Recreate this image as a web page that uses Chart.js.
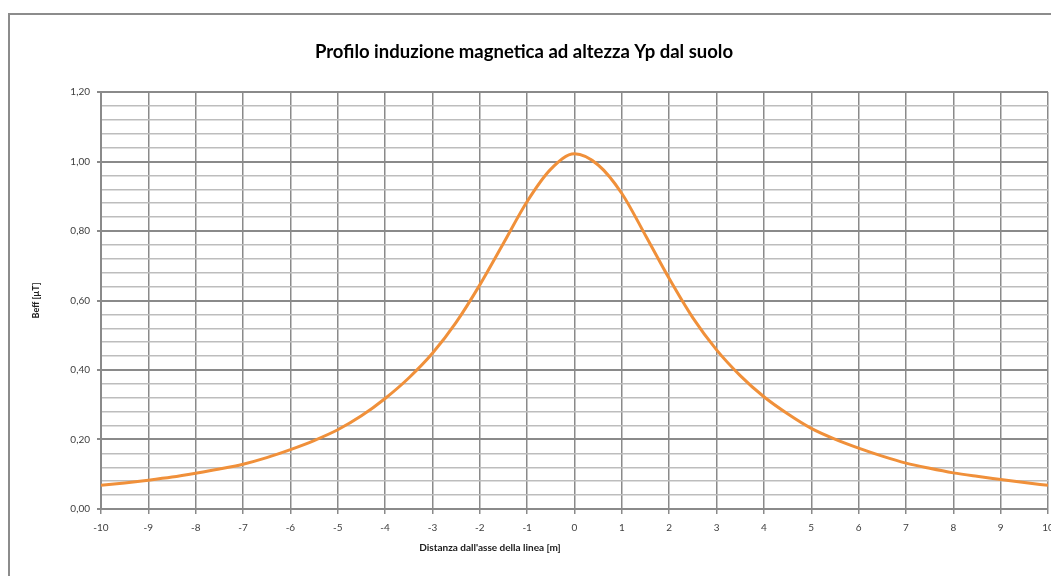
<!DOCTYPE html>
<html>
<head>
<meta charset="utf-8">
<script src="https://cdn.jsdelivr.net/npm/chart.js@4"></script>
<style>
  html, body { margin: 0; padding: 0; background: #ffffff; overflow: hidden; }
  #wrap { position: relative; width: 1051px; height: 576px; }
  #frame { position: absolute; left: 8px; top: 13px; width: 1200px; height: 800px; border: 2px solid #8c8c8c; box-sizing: border-box; }
  canvas { position: absolute; left: 0; top: 0; }
</style>
</head>
<body>
<div id="wrap">
  <div id="frame"></div>
  <canvas id="c" width="1051" height="576"></canvas>
</div>
<script>
const chartTitle = "Profilo induzione magnetica ad altezza Yp dal suolo";
const xAxisTitle = "Distanza dall'asse della linea [m]";
const yAxisTitle = "Beff [µT]";

const distances = [-10, -9.5, -9, -8.5, -8, -7.5, -7, -6.5, -6, -5.5, -5, -4.5, -4, -3.5, -3, -2.5, -2, -1.5, -1, -0.5,
                   0, 0.5, 1, 1.5, 2, 2.5, 3, 3.5, 4, 4.5, 5, 5.5, 6, 6.5, 7, 7.5, 8, 8.5, 9, 9.5, 10];
const beffValues = [0.068, 0.075, 0.083, 0.092, 0.103, 0.115, 0.129, 0.148, 0.171, 0.197, 0.228, 0.268, 0.318, 0.377, 0.448, 0.537, 0.645, 0.765, 0.885, 0.978,
                    1.022, 0.990, 0.908, 0.787, 0.663, 0.550, 0.458, 0.384, 0.323, 0.274, 0.232, 0.201, 0.175, 0.152, 0.132, 0.117, 0.104, 0.094, 0.085, 0.076, 0.068];

const yMin = 0, yMax = 1.2, yMajorStep = 0.2, yMinorStep = 0.04;
const xMin = -10, xMax = 10, xStep = 1;

const points = distances.map((d, i) => ({ x: d, y: beffValues[i] }));

const isMajor = v => Math.abs(v / yMajorStep - Math.round(v / yMajorStep)) < 1e-6;

// x-axis title drawn at the position it has in the (cropped) original sheet
const xTitlePlugin = {
  id: 'xTitle',
  afterDraw(chart) {
    const ctx = chart.ctx;
    ctx.save();
    ctx.font = 'bold 10px Lato';
    ctx.fillStyle = '#202020';
    ctx.textAlign = 'center';
    ctx.textBaseline = 'middle';
    ctx.fillText(xAxisTitle, 490, chart.chartArea.bottom + 39);
    ctx.restore();
  }
};

new Chart(document.getElementById('c'), {
  type: 'line',
  data: {
    datasets: [{
      data: points,
      borderColor: '#f0903a',
      borderWidth: 3,
      pointRadius: 0,
      cubicInterpolationMode: 'monotone',
      fill: false
    }]
  },
  plugins: [xTitlePlugin],
  options: {
    responsive: false,
    animation: false,
    layout: { padding: { left: 0, right: 3, top: 0, bottom: 0 }, autoPadding: false },
    plugins: {
      legend: { display: false },
      tooltip: { enabled: false },
      title: {
        display: true,
        text: chartTitle,
        color: '#000000',
        font: { family: 'Lato', size: 18.5, weight: 'bold', lineHeight: 1.2 },
        padding: { top: 40.9, bottom: 28.9 }
      }
    },
    scales: {
      x: {
        type: 'linear',
        min: xMin, max: xMax,
        afterFit: s => { s.height = 67; s.paddingLeft = 0; s.paddingRight = 0; },
        ticks: {
          stepSize: xStep,
          autoSkip: false,
          maxRotation: 0,
          padding: 8,
          color: '#404040',
          font: { family: 'Lato', size: 10 },
          callback: v => String(v)
        },
        grid: { color: '#8a8a8a', lineWidth: 1.5, tickLength: 5, tickColor: '#8a8a8a' },
        border: { color: '#8a8a8a', width: 2 },
        title: { display: false, text: xAxisTitle }
      },
      y: {
        min: yMin, max: yMax,
        afterFit: s => { s.width = 101; s.paddingTop = 0; s.paddingBottom = 0; },
        ticks: {
          stepSize: yMinorStep,
          maxTicksLimit: 100,
          autoSkip: false,
          padding: 7,
          color: '#404040',
          font: { family: 'Lato', size: 10 },
          callback: v => isMajor(v) ? v.toFixed(2).replace('.', ',') : ''
        },
        grid: {
          color: ctx => isMajor(ctx.tick.value) ? '#8a8a8a' : '#bdbdbd',
          lineWidth: ctx => isMajor(ctx.tick.value) ? 2 : 1.5,
          tickLength: 4,
          tickColor: ctx => isMajor(ctx.tick.value) ? '#8a8a8a' : 'rgba(0,0,0,0)'
        },
        border: { color: '#8a8a8a', width: 2 },
        title: {
          display: true,
          text: yAxisTitle,
          color: '#202020',
          font: { family: 'Lato', size: 9, weight: 'bold', lineHeight: 1.2 },
          padding: { top: 30.6, bottom: 0 }
        }
      }
    }
  }
});
</script>
</body>
</html>
